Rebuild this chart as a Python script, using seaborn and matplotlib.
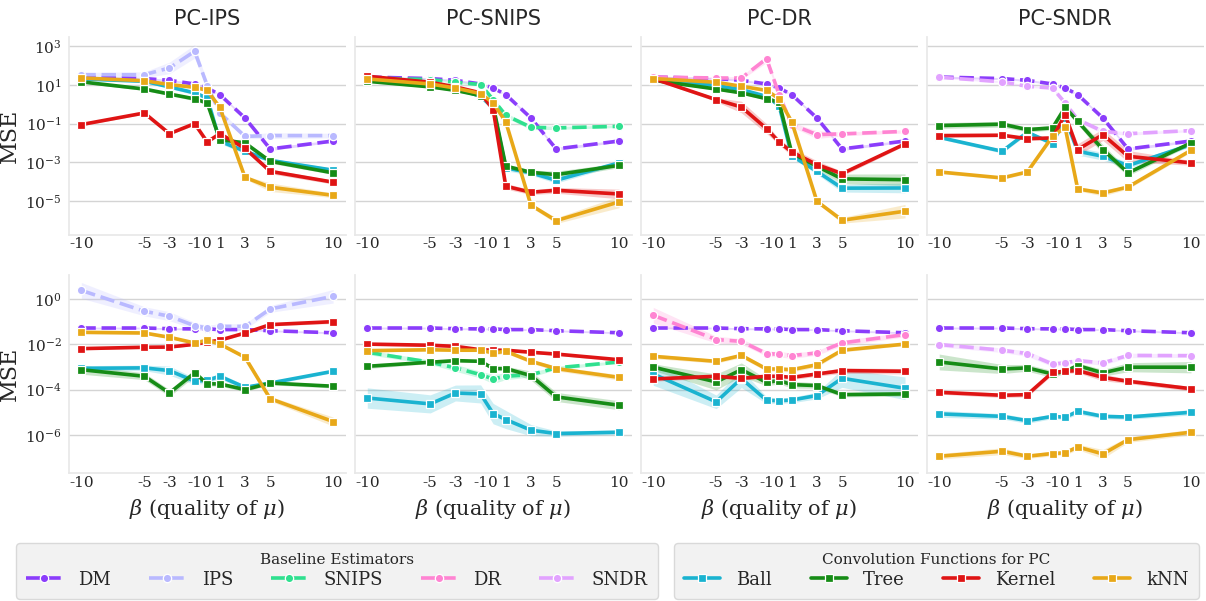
import numpy as np
import pandas as pd
import matplotlib
matplotlib.use("Agg")
import matplotlib.pyplot as plt
import seaborn as sns
from matplotlib.ticker import NullLocator

# ---------------- data (log10 of MSE) ----------------
BETA = [-10, -5, -3, -1, 0, 1, 3, 5, 10]
BETA_LABELS = ["-10", "-5", "-3", "-1", "0", "1", "3", "5", "10"]
PANELS = ["PC-IPS", "PC-SNIPS", "PC-DR", "PC-SNDR"]
BASELINES = ["DM", "IPS", "SNIPS", "DR", "SNDR"]
CONVS = ["Ball", "Tree", "Kernel", "kNN"]

# top row
dm_top = [1.41, 1.33, 1.24, 1.05, 0.84, 0.50, -0.71, -2.31, -1.90]
dm_top_band = [0.05, 0.05, 0.05, 0.05, 0.05, 0.06, 0.06, 0.08, 0.06]

ips_top = [1.53, 1.53, 1.88, 2.74, 0.97, -0.45, -1.66, -1.62, -1.62]
ips_top_band = [0.12, 0.15, 0.30, 0.35, 0.15, 0.15, 0.10, 0.15, 0.12]
pcips_top_ball = [1.31, 1.19, 0.90, 0.59, 0.33, -1.91, -2.43, -2.90, -3.41]
pcips_top_ball_band = [0.05, 0.05, 0.08, 0.10, 0.10, 0.12, 0.12, 0.10, 0.10]
pcips_top_tree = [1.16, 0.79, 0.53, 0.28, 0.07, -1.83, -2.00, -2.95, -3.55]
pcips_top_tree_band = [0.05, 0.08, 0.08, 0.10, 0.10, 0.10, 0.12, 0.10, 0.08]
pcips_top_kernel = [-1.05, -0.45, -1.52, -1.00, -1.95, -1.52, -2.28, -3.47, -4.03]
pcips_top_kernel_band = [0.06, 0.06, 0.06, 0.08, 0.08, 0.08, 0.10, 0.12, 0.10]
pcips_top_knn = [1.36, 1.22, 1.02, 0.88, 0.72, -0.16, -3.78, -4.29, -4.71]
pcips_top_knn_band = [0.08, 0.08, 0.08, 0.08, 0.08, 0.10, 0.08, 0.22, 0.12]

snips_top = [1.36, 1.28, 1.14, 1.02, 0.24, -0.57, -1.19, -1.22, -1.14]
snips_top_band = [0.05, 0.05, 0.05, 0.05, 0.10, 0.12, 0.12, 0.08, 0.06]
pcsnips_top_ball = [1.33, 1.02, 0.84, 0.41, -0.19, -3.29, -3.55, -3.93, -3.03]
pcsnips_top_ball_band = [0.05, 0.05, 0.05, 0.08, 0.10, 0.15, 0.12, 0.15, 0.10]
pcsnips_top_tree = [1.19, 0.90, 0.72, 0.45, -0.07, -3.20, -3.52, -3.64, -3.16]
pcsnips_top_tree_band = [0.05, 0.05, 0.05, 0.08, 0.10, 0.12, 0.12, 0.18, 0.12]
pcsnips_top_kernel = [1.45, 1.14, 0.90, 0.59, -0.28, -4.24, -4.55, -4.45, -4.64]
pcsnips_top_kernel_band = [0.05, 0.05, 0.05, 0.05, 0.10, 0.15, 0.12, 0.15, 0.25]
pcsnips_top_knn = [1.31, 1.05, 0.84, 0.55, 0.07, -0.91, -5.22, -6.02, -5.05]
pcsnips_top_knn_band = [0.05, 0.05, 0.05, 0.05, 0.10, 0.10, 0.10, 0.15, 0.30]

dr_top = [1.41, 1.36, 1.36, 2.36, 0.50, -1.05, -1.57, -1.53, -1.40]
dr_top_band = [0.05, 0.05, 0.08, 0.20, 0.10, 0.12, 0.20, 0.10, 0.08]
pcdr_top_ball = [1.28, 0.97, 0.76, 0.41, -0.07, -2.66, -3.47, -4.34, -4.33]
pcdr_top_ball_band = [0.05, 0.05, 0.08, 0.08, 0.10, 0.10, 0.15, 0.20, 0.25]
pcdr_top_tree = [1.24, 0.79, 0.59, 0.29, 0.10, -2.52, -3.21, -3.86, -3.90]
pcdr_top_tree_band = [0.05, 0.06, 0.06, 0.08, 0.10, 0.10, 0.15, 0.25, 0.30]
pcdr_top_kernel = [1.33, 0.24, -0.14, -1.26, -1.95, -2.47, -3.12, -3.59, -2.05]
pcdr_top_kernel_band = [0.06, 0.10, 0.30, 0.25, 0.15, 0.20, 0.20, 0.12, 0.08]
pcdr_top_knn = [1.33, 1.14, 0.93, 0.72, 0.28, -0.91, -5.02, -6.00, -5.53]
pcdr_top_knn_band = [0.05, 0.05, 0.05, 0.08, 0.10, 0.10, 0.08, 0.15, 0.35]

sndr_top = [1.40, 1.16, 0.93, 0.84, 0.07, -0.79, -1.40, -1.52, -1.36]
sndr_top_band = [0.05, 0.05, 0.05, 0.05, 0.10, 0.12, 0.12, 0.08, 0.06]
pcsndr_top_ball = [-1.71, -2.43, -1.45, -2.03, -0.71, -2.43, -2.69, -3.17, -2.09]
pcsndr_top_ball_band = [0.08, 0.10, 0.10, 0.10, 0.15, 0.20, 0.20, 0.15, 0.10]
pcsndr_top_tree = [-1.10, -1.03, -1.31, -1.22, -0.16, -0.88, -2.34, -3.55, -2.00]
pcsndr_top_tree_band = [0.15, 0.15, 0.12, 0.12, 0.12, 0.15, 0.25, 0.15, 0.10]
pcsndr_top_kernel = [-1.62, -1.60, -1.78, -1.74, -0.53, -2.34, -1.57, -2.69, -3.03]
pcsndr_top_kernel_band = [0.10, 0.08, 0.08, 0.10, 0.15, 0.30, 0.30, 0.30, 0.12]
pcsndr_top_knn = [-3.50, -3.81, -3.50, -1.66, -1.19, -4.38, -4.59, -4.28, -2.38]
pcsndr_top_knn_band = [0.08, 0.08, 0.08, 0.10, 0.10, 0.10, 0.15, 0.10, 0.10]

# bottom row
dm_bot = [-1.28, -1.28, -1.31, -1.32, -1.32, -1.35, -1.35, -1.40, -1.49]
dm_bot_band = [0.04, 0.04, 0.04, 0.04, 0.04, 0.04, 0.04, 0.04, 0.04]

ips_bot = [0.38, -0.54, -0.76, -1.18, -1.28, -1.21, -1.21, -0.44, 0.12]
ips_bot_band = [0.35, 0.20, 0.20, 0.15, 0.12, 0.12, 0.12, 0.15, 0.30]
pcips_bot_ball = [-3.06, -3.04, -3.16, -3.63, -3.59, -3.41, -3.90, -3.71, -3.19]
pcips_bot_ball_band = [0.12, 0.12, 0.20, 0.15, 0.12, 0.12, 0.10, 0.08, 0.06]
pcips_bot_tree = [-3.12, -3.41, -4.15, -3.26, -3.74, -3.75, -4.00, -3.71, -3.85]
pcips_bot_tree_band = [0.20, 0.15, 0.15, 0.15, 0.10, 0.10, 0.08, 0.08, 0.08]
pcips_bot_kernel = [-2.19, -2.13, -2.12, -2.00, -1.90, -1.82, -1.50, -1.13, -1.00]
pcips_bot_kernel_band = [0.05, 0.05, 0.05, 0.05, 0.05, 0.05, 0.06, 0.06, 0.08]
pcips_bot_knn = [-1.47, -1.50, -1.69, -1.94, -1.82, -1.99, -2.57, -4.40, -5.41]
pcips_bot_knn_band = [0.06, 0.06, 0.06, 0.06, 0.06, 0.06, 0.08, 0.10, 0.20]

snips_bot = [-2.35, -2.79, -3.04, -3.34, -3.53, -3.41, -3.34, -3.04, -2.78]
snips_bot_band = [0.10, 0.10, 0.15, 0.15, 0.20, 0.15, 0.10, 0.08, 0.06]
pcsnips_bot_ball = [-4.37, -4.63, -4.15, -4.19, -5.06, -5.32, -5.79, -5.94, -5.88]
pcsnips_bot_ball_band = [0.45, 0.40, 0.35, 0.40, 0.45, 0.40, 0.25, 0.12, 0.10]
pcsnips_bot_tree = [-2.97, -2.79, -2.72, -2.75, -3.07, -3.07, -3.38, -4.32, -4.69]
pcsnips_bot_tree_band = [0.10, 0.06, 0.06, 0.06, 0.08, 0.10, 0.20, 0.20, 0.20]
pcsnips_bot_kernel = [-1.99, -2.04, -2.09, -2.24, -2.26, -2.26, -2.35, -2.43, -2.68]
pcsnips_bot_kernel_band = [0.06, 0.06, 0.06, 0.06, 0.06, 0.06, 0.06, 0.06, 0.06]
pcsnips_bot_knn = [-2.28, -2.24, -2.26, -2.26, -2.38, -2.31, -2.75, -3.07, -3.46]
pcsnips_bot_knn_band = [0.06, 0.06, 0.06, 0.06, 0.10, 0.08, 0.08, 0.10, 0.12]

dr_bot = [-0.72, -1.79, -1.87, -2.41, -2.44, -2.50, -2.38, -1.94, -1.57]
dr_bot_band = [0.35, 0.15, 0.12, 0.12, 0.12, 0.12, 0.10, 0.12, 0.10]
pcdr_bot_ball = [-3.31, -4.54, -3.51, -4.47, -4.49, -4.46, -4.26, -3.50, -3.94]
pcdr_bot_ball_band = [0.50, 0.30, 0.40, 0.15, 0.12, 0.12, 0.15, 0.40, 0.50]
pcdr_bot_tree = [-3.01, -3.66, -3.12, -3.68, -3.60, -3.78, -3.82, -4.22, -4.19]
pcdr_bot_tree_band = [0.15, 0.35, 0.30, 0.15, 0.15, 0.15, 0.12, 0.10, 0.10]
pcdr_bot_kernel = [-3.53, -3.41, -3.50, -3.41, -3.41, -3.46, -3.31, -3.16, -3.19]
pcdr_bot_kernel_band = [0.10, 0.08, 0.08, 0.08, 0.08, 0.10, 0.10, 0.12, 0.12]
pcdr_bot_knn = [-2.53, -2.75, -2.49, -3.09, -3.09, -3.12, -2.90, -2.26, -1.99]
pcdr_bot_knn_band = [0.10, 0.08, 0.10, 0.10, 0.10, 0.10, 0.10, 0.08, 0.06]

sndr_bot = [-2.01, -2.26, -2.41, -2.87, -2.82, -2.72, -2.82, -2.49, -2.50]
sndr_bot_band = [0.10, 0.10, 0.12, 0.12, 0.10, 0.10, 0.10, 0.10, 0.08]
pcsndr_bot_ball = [-5.07, -5.18, -5.37, -5.18, -5.22, -4.96, -5.18, -5.21, -5.00]
pcsndr_bot_ball_band = [0.15, 0.12, 0.12, 0.10, 0.10, 0.12, 0.10, 0.10, 0.12]
pcsndr_bot_tree = [-2.78, -3.09, -3.04, -3.31, -3.19, -2.94, -3.26, -3.01, -3.01]
pcsndr_bot_tree_band = [0.35, 0.20, 0.15, 0.15, 0.10, 0.12, 0.15, 0.20, 0.25]
pcsndr_bot_kernel = [-4.12, -4.25, -4.22, -3.24, -3.19, -3.16, -3.46, -3.63, -3.96]
pcsndr_bot_kernel_band = [0.08, 0.10, 0.10, 0.10, 0.10, 0.10, 0.15, 0.10, 0.10]
pcsndr_bot_knn = [-6.94, -6.72, -6.94, -6.82, -6.79, -6.53, -6.84, -6.21, -5.88]
pcsndr_bot_knn_band = [0.12, 0.15, 0.10, 0.10, 0.10, 0.12, 0.20, 0.12, 0.12]

COLORS = {
    "DM": "#8b3dfb", "IPS": "#b9b9ff", "SNIPS": "#2fe08f", "DR": "#ff84d2",
    "SNDR": "#e2a3ff", "Ball": "#1ab3d0", "Tree": "#168c16",
    "Kernel": "#df1414", "kNN": "#e8a818",
}

# table built from the lists above: (row, panel) -> [(name, mid, band), ...]
g = globals()
series = {}
for r, row in enumerate(["top", "bot"]):
    for p, base in zip(PANELS, ["ips", "snips", "dr", "sndr"]):
        items = [("DM", g[f"dm_{row}"], g[f"dm_{row}_band"]),
                 (base.upper(), g[f"{base}_{row}"], g[f"{base}_{row}_band"])]
        for c in CONVS:
            key = f"pc{base}_{row}_{c.lower()}"
            items.append((c, g[key], g[key + "_band"]))
        series[(r, p)] = items

# ---------------- style ----------------
sns.set_theme(style="whitegrid")
plt.rcParams["font.family"] = ["DejaVu Serif"]
plt.rcParams["mathtext.fontset"] = "dejavuserif"
plt.rcParams["grid.color"] = "#d4d4d4"
plt.rcParams["axes.edgecolor"] = "#e8e8e8"

fig, axes = plt.subplots(2, 4, figsize=(12.06, 6.01), dpi=100, sharey="row")
fig.subplots_adjust(left=0.057, right=0.998, top=0.9384, bottom=0.213,
                    wspace=0.0325, hspace=0.207)

YLIMS = [(10 ** -6.74, 10 ** 3.48), (10 ** -7.68, 10 ** 1.04)]
YTICKS = [[1e-5, 1e-3, 1e-1, 1e1, 1e3], [1e-6, 1e-4, 1e-2, 1e0]]

for r in range(2):
    for j, p in enumerate(PANELS):
        ax = axes[r, j]
        ax.set_yscale("log")
        for name, mid, band in series[(r, p)]:
            xs, ys = [], []
            for b, m, h in zip(BETA, mid, band):
                for v in (m - h, m, m + h):
                    xs.append(b)
                    ys.append(10.0 ** v)
            df = pd.DataFrame({"beta": xs, "mse": ys})
            is_base = name in BASELINES
            sns.lineplot(
                data=df, x="beta", y="mse", ax=ax, estimator="median",
                errorbar=("pi", 100), color=COLORS[name], label=name,
                legend=False, linewidth=2.6,
                linestyle=(0, (4, 1.6)) if is_base else "-",
                marker="o" if is_base else "s", markersize=6,
                markeredgecolor="white", markeredgewidth=0.9,
                err_kws={"alpha": 0.22, "linewidth": 0},
            )
        ax.set_ylim(*YLIMS[r])
        ax.set_yticks(YTICKS[r])
        ax.yaxis.set_minor_locator(NullLocator())
        ax.set_xticks(BETA)
        ax.set_xticklabels(BETA_LABELS)
        ax.set_xlim(-11, 11)
        ax.xaxis.grid(False)
        ax.tick_params(axis="x", labelsize=11, length=0, pad=2)
        ax.tick_params(axis="y", labelsize=11, length=0, pad=5)
        sns.despine(ax=ax, top=True, right=True)
        for s in ("left", "bottom"):
            ax.spines[s].set_color("#e8e8e8")
        ax.set_xlabel(r"$\beta$ (quality of $\mu$)" if r == 1 else "", fontsize=15, labelpad=5)
        ax.set_ylabel("MSE" if j == 0 else "", fontsize=16, labelpad=3)
        if r == 0:
            ax.set_title(p, fontsize=15, family="DejaVu Sans", pad=9)

# legends
hmap = {}
for ax in axes.flat:
    for h, l in zip(*ax.get_legend_handles_labels()):
        hmap.setdefault(l, h)

common = dict(loc="lower left", mode="expand", borderaxespad=0, fontsize=13,
              title_fontsize=11, frameon=True, fancybox=True,
              facecolor="#f2f2f2", edgecolor="#d9d9d9", framealpha=1,
              handlelength=2.0, handletextpad=0.9, borderpad=0.55,
              labelspacing=0.2)
leg1 = fig.legend([hmap[k] for k in BASELINES], BASELINES, ncol=5,
                  title="Baseline Estimators",
                  bbox_to_anchor=(0.0133, 0.004, 0.532, 0.09), **common)
leg2 = fig.legend([hmap[k] for k in CONVS], CONVS, ncol=4,
                  title="Convolution Functions for PC",
                  bbox_to_anchor=(0.5589, 0.004, 0.4353, 0.09), **common)

fig.savefig("out.png", dpi=100)
